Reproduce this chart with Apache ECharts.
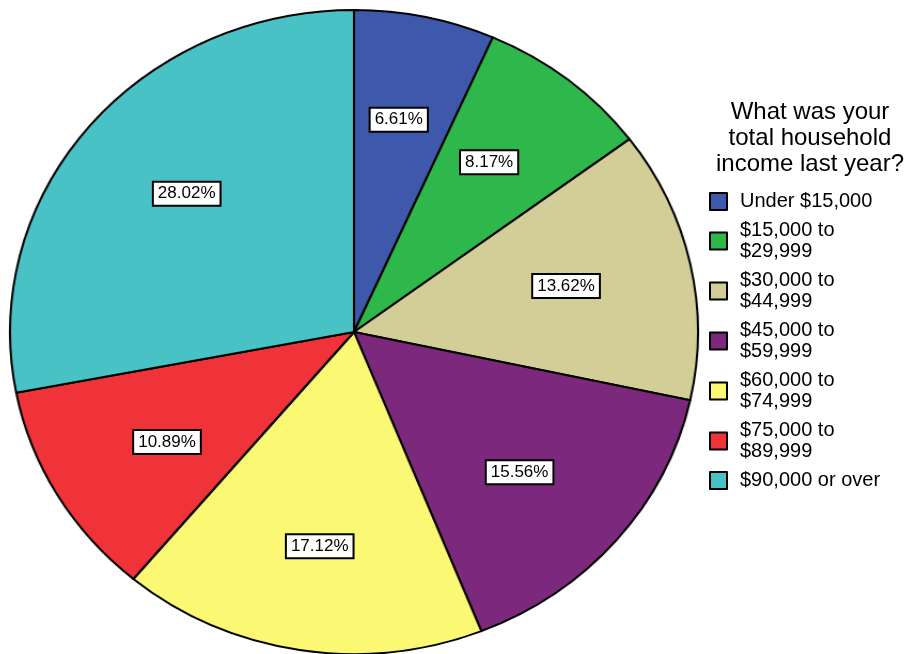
<!doctype html>
<html>

<head>
	<meta charset="utf-8">
	<style>
		body { margin: 0; background: #fff; }
		#wrap { position: relative; width: 911px; height: 654px; overflow: hidden; }
		#pie, #over { position: absolute; left: 0; top: 0; width: 911px; height: 654px; }
		/* the source pie is a little wider than tall */
		#pie { transform: scaleX(1.0683); transform-origin: 354px 332px; }
	</style>
</head>

<body>
	<div id="wrap">
		<div id="pie"></div>
		<div id="over"></div>
	</div>
</body>
<script src="https://cdn.jsdelivr.net/npm/echarts@6/dist/echarts.min.js"></script>
<script type="text/javascript">
	var categories = ['Under $15,000', '$15,000 to\n$29,999', '$30,000 to\n$44,999', '$45,000 to\n$59,999',
		'$60,000 to\n$74,999', '$75,000 to\n$89,999', '$90,000 or over'];
	var percents = [6.61, 8.17, 13.62, 15.56, 17.12, 10.89, 28.02];
	var colors = ['#3e58ac', '#2eb84b', '#d3ce97', '#7c287d', '#fbf873', '#ef3338', '#48c2c5'];
	var legendTitle = 'What was your\ntotal household\nincome last year?';

	var font = '"Liberation Sans", Arial, sans-serif';

	function pieData(fill) {
		return categories.map(function(name, i) {
			return {
				name: name,
				value: percents[i],
				itemStyle: { color: fill ? colors[i] : 'rgba(0,0,0,0)' }
			};
		});
	}

	// slices (container is stretched horizontally)
	var pieChart = echarts.init(document.getElementById('pie'));
	pieChart.setOption({
		animation: false,
		series: [{
			type: 'pie',
			center: [354, 332],
			radius: 322,
			startAngle: 90,
			clockwise: true,
			silent: true,
			label: { show: false },
			labelLine: { show: false },
			itemStyle: { borderColor: '#000', borderWidth: 2 },
			data: pieData(true)
		}]
	});

	// labels, legend and title (not stretched)
	var overChart = echarts.init(document.getElementById('over'));
	overChart.setOption({
		animation: false,
		title: {
			text: legendTitle,
			left: 805,
			top: 94,
			textAlign: 'center',
			textStyle: {
				fontFamily: font,
				fontSize: 24,
				fontWeight: 'normal',
				color: '#000',
				lineHeight: 26
			}
		},
		legend: {
			orient: 'vertical',
			left: 704,
			top: 186,
			itemWidth: 17,
			itemHeight: 17,
			itemGap: 8,
			icon: 'rect',
			selectedMode: false,
			textStyle: {
				fontFamily: font,
				fontSize: 20,
				lineHeight: 21,
				color: '#000',
				padding: [0, 0, 0, 8]
			},
			data: categories.map(function(name, i) {
				return {
					name: name,
					itemStyle: { color: colors[i], borderColor: '#000', borderWidth: 2 }
				};
			})
		},
		series: [{
			type: 'pie',
			center: [354, 332],
			radius: [112, 316],
			startAngle: 90,
			clockwise: true,
			silent: true,
			emphasis: { disabled: true },
			labelLine: { show: false },
			itemStyle: { borderWidth: 0 },
			label: {
				show: true,
				position: 'inside',
				formatter: function(p) { return p.value.toFixed(2) + '%'; },
				fontFamily: font,
				fontSize: 17,
				color: '#000',
				backgroundColor: '#fff',
				borderColor: '#000',
				borderWidth: 2,
				padding: [3, 4, 2, 4]
			},
			data: pieData(false)
		}]
	});
</script>

</html>
